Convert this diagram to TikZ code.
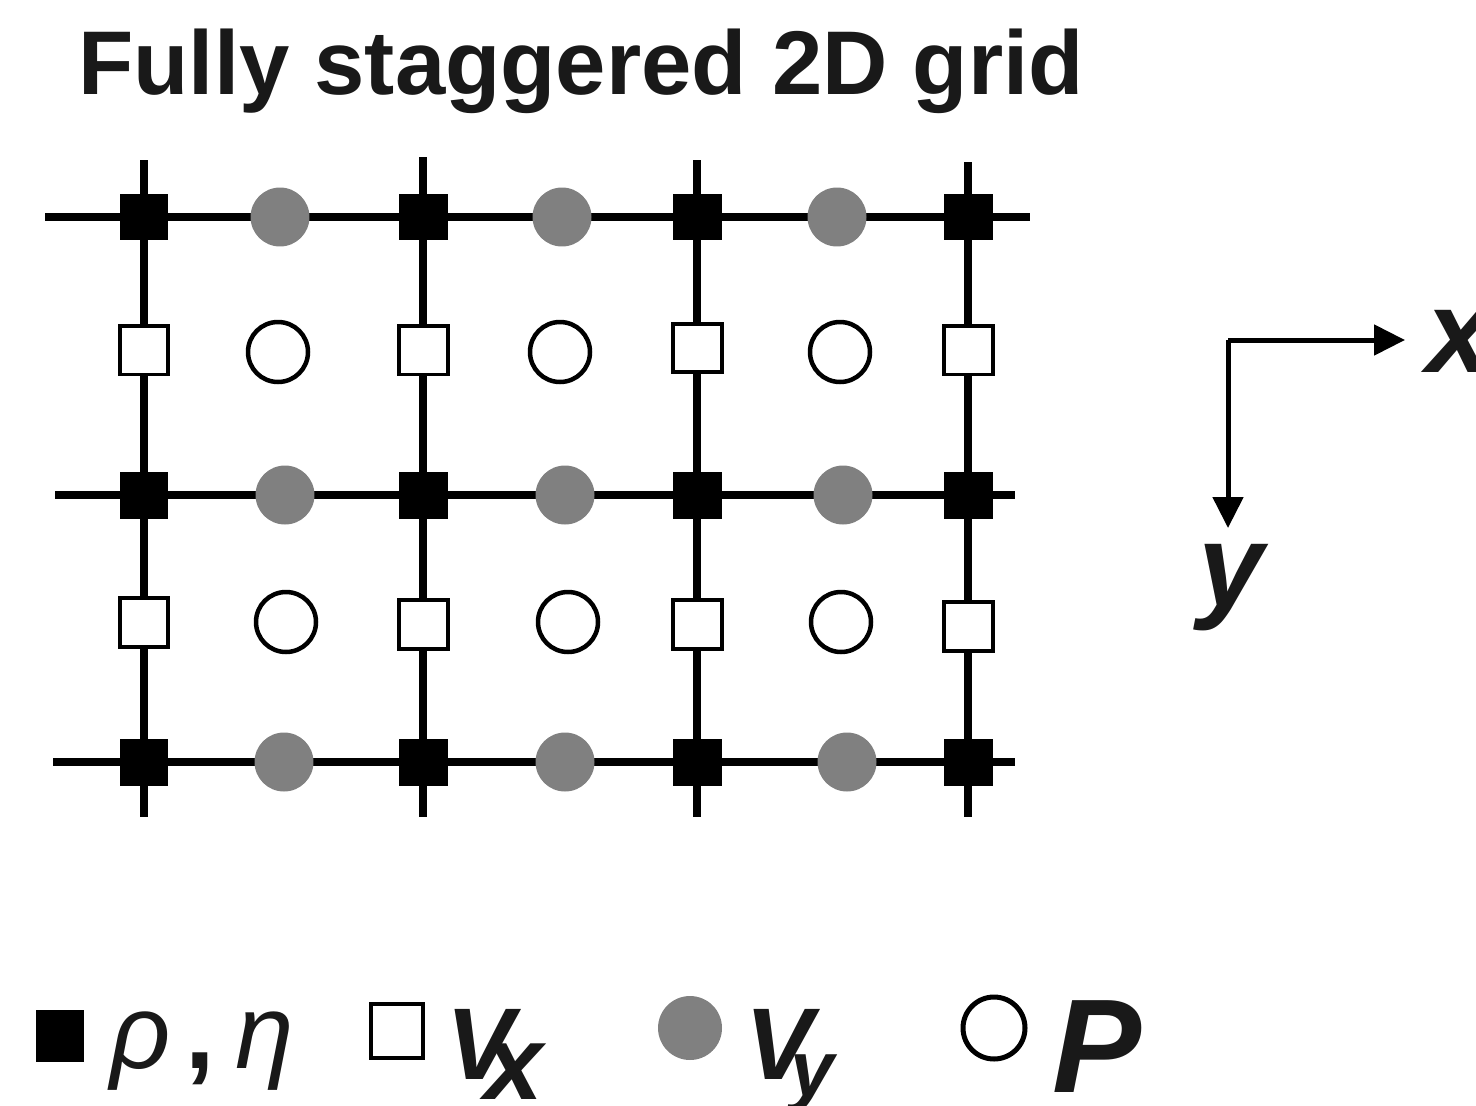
\documentclass[tikz,border=0pt]{standalone}
\usepackage{fontspec}
\setmainfont{Liberation Sans}
\usepackage{tikz}
\usetikzlibrary{arrows.meta}

\begin{document}
\begin{tikzpicture}[x=0.02cm,y=-0.02cm,
  rhopt/.style={fill=black,minimum width=0.98cm,minimum height=0.94cm,inner sep=0pt},
  vxpt/.style={draw=black,fill=white,line width=0.08cm,minimum size=0.98cm,inner sep=0pt},
  vypt/.style={circle,fill=black!50,minimum size=1.18cm,inner sep=0pt},
  ppt/.style={circle,draw=black,fill=white,line width=0.09cm,minimum size=1.2cm,inner sep=0pt},
  gridline/.style={line width=0.16cm},
  axis/.style={-{Triangle[length=0.62cm,width=0.6cm]},line width=0.1cm},
  lab/.style={inner sep=0pt,anchor=base west,text=black!90}]
  \useasboundingbox (0,0) rectangle (1476,1105);
  \node[lab,font=\fontsize{51.5}{52}\selectfont\bfseries] (title) at (78,94) {Fully staggered 2D grid};
  \coordinate (r1w) at (45,217);  \coordinate (r1e) at (1030,217);
  \coordinate (r2w) at (55,495);  \coordinate (r2e) at (1015,495);
  \coordinate (r3w) at (53,762);  \coordinate (r3e) at (1015,762);
  \coordinate (c1n) at (144,160); \coordinate (c1s) at (144,817);
  \coordinate (c2n) at (423,157); \coordinate (c2s) at (423,817);
  \coordinate (c3n) at (697,160); \coordinate (c3s) at (697,817);
  \coordinate (c4n) at (968,162); \coordinate (c4s) at (968,817);
  \draw[gridline] (r1w) -- (r1e);
  \draw[gridline] (r2w) -- (r2e);
  \draw[gridline] (r3w) -- (r3e);
  \draw[gridline] (c1n) -- (c1s);
  \draw[gridline] (c2n) -- (c2s);
  \draw[gridline] (c3n) -- (c3s);
  \draw[gridline] (c4n) -- (c4s);
  \node[rhopt] (rho11) at (144,217) {};
  \node[rhopt] (rho12) at (423,217) {};
  \node[rhopt] (rho13) at (697,217) {};
  \node[rhopt] (rho14) at (968,217) {};
  \node[rhopt] (rho21) at (144,495) {};
  \node[rhopt] (rho22) at (423,495) {};
  \node[rhopt] (rho23) at (697,495) {};
  \node[rhopt] (rho24) at (968,495) {};
  \node[rhopt] (rho31) at (144,762) {};
  \node[rhopt] (rho32) at (423,762) {};
  \node[rhopt] (rho33) at (697,762) {};
  \node[rhopt] (rho34) at (968,762) {};
  \node[vypt]  (vy11)  at (280,217) {};
  \node[vypt]  (vy12)  at (562,217) {};
  \node[vypt]  (vy13)  at (837,217) {};
  \node[vypt]  (vy21)  at (285,495) {};
  \node[vypt]  (vy22)  at (565,495) {};
  \node[vypt]  (vy23)  at (843,495) {};
  \node[vypt]  (vy31)  at (284,762) {};
  \node[vypt]  (vy32)  at (565,762) {};
  \node[vypt]  (vy33)  at (847,762) {};
  \node[vxpt]  (vx11)  at (144,350) {};
  \node[vxpt]  (vx12)  at (423,350) {};
  \node[vxpt]  (vx13)  at (697,348) {};
  \node[vxpt]  (vx14)  at (968,350) {};
  \node[vxpt]  (vx21)  at (144,622) {};
  \node[vxpt]  (vx22)  at (423,624) {};
  \node[vxpt]  (vx23)  at (697,624) {};
  \node[vxpt]  (vx24)  at (968,626) {};
  \node[ppt]   (p11)   at (278,352) {};
  \node[ppt]   (p12)   at (560,352) {};
  \node[ppt]   (p13)   at (840,352) {};
  \node[ppt]   (p21)   at (286,622) {};
  \node[ppt]   (p22)   at (568,622) {};
  \node[ppt]   (p23)   at (841,622) {};
  \coordinate (o)  at (1228,340);
  \coordinate (xe) at (1405,340);
  \coordinate (ye) at (1228,528);
  \draw[axis] (o) -- (xe);
  \draw[axis] (o) -- (ye);
  \node[lab,font=\fontsize{67}{67}\selectfont\bfseries\itshape] (xlab) at (1426,372) {x};
  \node[lab,font=\fontsize{67}{67}\selectfont\bfseries\itshape] (ylab) at (1198,606) {y};
  \node[rhopt,minimum width=0.96cm,minimum height=1.04cm] (krho) at (60,1036) {};
  \node[lab,font=\fontsize{60}{60}\selectfont] (trho) at (110,1068) {\itshape ρ\hspace{0.3cm}{\upshape\bfseries ,}\hspace{0.4cm}η};
  \node[vxpt,minimum width=1.04cm,minimum height=1.08cm] (kvx) at (397,1031) {};
  \node[lab,font=\fontsize{58}{58}\selectfont\bfseries\itshape] (tvx) at (446,1079) {V\kern-0.6cm\raisebox{-0.4cm}{\fontsize{60}{60}\selectfont x}};
  \node[vypt,minimum size=1.28cm] (kvy) at (690,1028) {};
  \node[lab,font=\fontsize{58}{58}\selectfont\bfseries\itshape] (tvy) at (745,1079) {V\kern-0.45cm\raisebox{-0.34cm}{\fontsize{45}{45}\selectfont y}};
  \node[ppt,minimum size=1.24cm,line width=0.1cm] (kp) at (994,1028) {};
  \node[lab,font=\fontsize{76}{76}\selectfont\bfseries\itshape] (tp) at (1052,1092) {P};
\end{tikzpicture}
\end{document}
